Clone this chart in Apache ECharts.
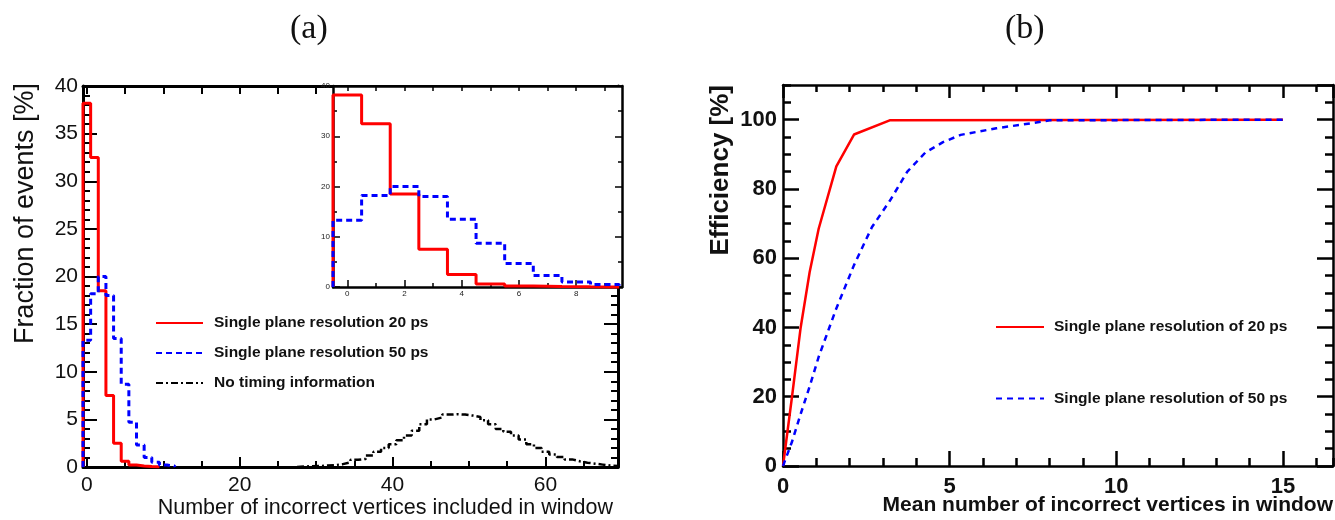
<!DOCTYPE html>
<html>
<head>
<meta charset="utf-8">
<script src="https://cdn.jsdelivr.net/npm/echarts@6/dist/echarts.min.js"></script>
<style>
  body { margin: 0; background: #fff; }
  #chart { width: 1335px; height: 520px; }
</style>
</head>
<body>
<div id="chart"></div>
<script>
// (a) fraction of events [%] per bin, bins centred on integers
const redFrac = [38.2, 32.5, 18.5, 7.5, 2.5, 0.6, 0.2, 0.1, 0.05, 0.02];
const blueFrac = [13.3, 18.2, 20.0, 18.0, 13.5, 8.7, 4.7, 2.3, 1.0, 0.5, 0.2, 0.1];
const noTimingFirstBin = 28;
const noTimingFrac = [0.05, 0.08, 0.1, 0.15, 0.2, 0.3, 0.5, 0.75, 0.85, 1.2,
  1.6, 2.0, 2.4, 2.8, 3.3, 3.8, 4.5, 5.0, 5.2, 5.5,
  5.55, 5.5, 5.4, 5.25, 4.9, 4.5, 4.0, 3.7, 3.3, 2.9,
  2.4, 2.0, 1.6, 1.3, 1.05, 0.8, 0.6, 0.45, 0.35, 0.25,
  0.15, 0.1];
const insetBins = 10;

// tick positions
const mainXLabels = [0, 20, 40, 60];
const mainXMinor = [5, 10, 15, 25, 30, 35, 45, 50, 55, 65];
const mainXTop = [0, 5, 10, 15, 20, 25, 30, 35, 40, 45, 50, 55, 60, 65];
const insetXLabels = [0, 2, 4, 6, 8];
const insetXMinor = [1, 3, 5, 7, 9];
const insetXTop = [0, 1, 2, 3, 4, 5, 6, 7, 8, 9];

// (b) efficiency [%] vs mean number of incorrect vertices
const eff20X = [0, 0.27, 0.53, 0.8, 1.07, 1.6, 2.13, 3.2, 15];
const eff20Y = [0, 20, 40, 56, 68.5, 86.5, 95.7, 99.8, 100];
const eff50X = [0, 0.27, 0.53, 0.8, 1.07, 1.6, 2.13, 2.67, 3.2, 3.73, 4.27, 4.8, 5.33, 6.4, 7.47, 8.0, 15];
const eff50Y = [0, 7, 15, 23, 31.5, 45.5, 58, 69, 76.5, 85, 90.5, 93.5, 95.6, 97.5, 99.0, 99.8, 100];

const nameA20 = 'Single plane resolution 20 ps';
const nameA50 = 'Single plane resolution 50 ps';
const nameANone = 'No timing information';
const nameB20 = 'Single plane resolution of 20 ps';
const nameB50 = 'Single plane resolution of 50 ps';

// histogram outline: bin edges k-0.5 .. k+0.5
function histPoints(vals, firstBin) {
  const pts = [[firstBin - 0.5, 0]];
  vals.forEach((v, i) => pts.push([firstBin + i - 0.5, v]));
  pts.push([firstBin + vals.length - 0.5, 0]);
  return pts;
}

// one side of a frame: axis line + inward ticks
function frame(g, pos, min, max, lineW, tickLen, tickW, ticks, label) {
  const a = {
    type: 'value', gridIndex: g, position: pos, min: min, max: max,
    axisLine: { show: lineW > 0, onZero: false, lineStyle: { color: '#000', width: lineW } },
    axisTick: { show: true, inside: true, length: tickLen, lineStyle: { color: '#000', width: tickW } },
    axisLabel: { show: false },
    splitLine: { show: false },
    z: g === 1 ? 11 : 0
  };
  if (Array.isArray(ticks)) a.axisTick.customValues = ticks;
  else a.interval = ticks;
  if (label) a.axisLabel = label;
  return a;
}

const labA = { show: true, fontSize: 21, color: '#111', margin: 5 };
const labInset = { show: true, fontSize: 8, color: '#222', margin: 3 };
const labB = { show: true, fontSize: 22, fontWeight: 'bold', color: '#111', margin: 6, showMaxLabel: false };

const xMain = frame(0, 'bottom', -0.5, 69.5, 3, 10, 2, mainXLabels,
  Object.assign({}, labA, { customValues: mainXLabels, margin: 8 }));
xMain.name = 'Number of incorrect vertices included in window';
xMain.nameLocation = 'end';
xMain.nameGap = -5;
xMain.nameTextStyle = { fontSize: 21.5, color: '#111', align: 'right', verticalAlign: 'top', padding: [30, 0, 0, 0] };

const yMain = frame(0, 'left', 0, 40, 3, 14, 2, 5, labA);
yMain.name = 'Fraction of events [%]';
yMain.nameLocation = 'end';
yMain.nameRotate = 90;
yMain.nameGap = 3;
yMain.nameTextStyle = { fontSize: 27, color: '#111', align: 'right', verticalAlign: 'bottom', padding: [0, 0, 44, 0] };

const xB = frame(2, 'bottom', 0, 16.5, 2.5, 15, 2.5, 5, Object.assign({}, labB, { margin: 10 }));

const yB = frame(2, 'left', 0, 110, 2.5, 16, 2.5, 20, labB);
yB.name = 'Efficiency [%]';
yB.nameLocation = 'end';
yB.nameRotate = 90;
yB.nameGap = 0;
yB.nameTextStyle = { fontSize: 26, fontWeight: 'bold', color: '#111', align: 'right', verticalAlign: 'bottom', padding: [0, 0, 49, 0] };

const xAxes = [
  xMain,                                                        // 0
  frame(0, 'bottom', -0.5, 69.5, 0, 6, 2, mainXMinor),          // 1
  frame(0, 'top', -0.5, 69.5, 3, 8, 2, mainXTop),               // 2
  frame(1, 'bottom', -0.5, 9.6, 2.5, 7, 1.5, insetXLabels,
    Object.assign({}, labInset, { customValues: insetXLabels })),// 3
  frame(1, 'bottom', -0.5, 9.6, 0, 4, 1.5, insetXMinor),        // 4
  frame(1, 'top', -0.5, 9.6, 2.5, 5, 1.5, insetXTop),           // 5
  xB,                                                           // 6
  frame(2, 'bottom', 0, 16.5, 0, 8, 2.5, 1),                    // 7
  frame(2, 'top', 0, 16.5, 2.5, 13, 2.5, 5),                    // 8
  frame(2, 'top', 0, 16.5, 0, 7, 2.5, 1)                        // 9
];

const yAxes = [
  yMain,                                                  // 0
  frame(0, 'left', 0, 40, 0, 7, 2, 1),                    // 1
  frame(0, 'right', 0, 40, 3, 14, 2, 5),                  // 2
  frame(0, 'right', 0, 40, 0, 7, 2, 1),                   // 3
  frame(1, 'left', 0, 40, 2.5, 7, 1.5, 10, labInset),     // 4
  frame(1, 'left', 0, 40, 0, 4, 1.5, 5),                  // 5
  frame(1, 'right', 0, 40, 2.5, 7, 1.5, 10),              // 6
  frame(1, 'right', 0, 40, 0, 4, 1.5, 5),                 // 7
  yB,                                                     // 8
  frame(2, 'left', 0, 110, 0, 8, 2.5, 5),                 // 9
  frame(2, 'right', 0, 110, 2.5, 16, 2.5, 20),            // 10
  frame(2, 'right', 0, 110, 0, 8, 2.5, 5)                 // 11
];

function hist(name, xi, yi, pts, color, width, type, z) {
  return {
    name: name, type: 'line', xAxisIndex: xi, yAxisIndex: yi,
    data: pts, step: 'end', symbol: 'none', clip: false, z: z,
    lineStyle: { color: color, width: width, type: type },
    itemStyle: { color: color }
  };
}

const legendText = { fontSize: 15.5, fontWeight: 'bold', color: '#111' };
const panelTitle = { fontFamily: 'Liberation Serif', fontSize: 34, fontWeight: 'normal', color: '#111' };

const chart = echarts.init(document.getElementById('chart'));
chart.setOption({
  animation: false,
  textStyle: { fontFamily: 'Liberation Sans, Arial, sans-serif' },
  title: [
    { text: '(a)', left: 285, top: 7, textStyle: panelTitle },
    { text: '(b)', left: 1000, top: 7, textStyle: panelTitle },
    // x-axis title of panel (b), right-aligned under the frame
    { text: 'Mean number of incorrect vertices in window', right: 2, top: 495, padding: 0,
      textStyle: { fontSize: 21, fontWeight: 'bold', color: '#111' } }
  ],
  grid: [
    { left: 83, top: 86, width: 535, height: 381, outerBoundsMode: 'none', containLabel: false },
    { left: 333, top: 86, width: 289, height: 201, show: true, backgroundColor: '#fff', borderWidth: 0, z: 10, outerBoundsMode: 'none', containLabel: false },
    { left: 783, top: 85, width: 550, height: 381, outerBoundsMode: 'none', containLabel: false }
  ],
  legend: [
    {
      data: [nameA20, nameA50, nameANone], orient: 'vertical', left: 155, top: 315, padding: 0,
      itemWidth: 47, itemHeight: 16, itemGap: 14, selectedMode: false,
      itemStyle: { opacity: 0 },
      textStyle: Object.assign({ padding: [0, 0, 0, 6] }, legendText)
    },
    {
      data: [nameB20, nameB50], orient: 'vertical', left: 995, top: 319, padding: 0,
      itemWidth: 48, itemHeight: 16, itemGap: 55.6, selectedMode: false,
      itemStyle: { opacity: 0 },
      textStyle: Object.assign({ padding: [0, 0, 0, 5] }, legendText)
    }
  ],
  xAxis: xAxes,
  yAxis: yAxes,
  series: [
    hist(nameA20, 0, 0, histPoints(redFrac, 0), '#ff0000', 3, 'solid', 3),
    hist(nameA50, 0, 0, histPoints(blueFrac, 0), '#0000ff', 3, [6, 4], 3),
    hist(nameANone, 0, 0, histPoints(noTimingFrac, noTimingFirstBin), '#000', 2.5, [7, 3, 2, 3], 3),
    hist(nameA20, 3, 4, histPoints(redFrac.slice(0, insetBins), 0), '#ff0000', 3, 'solid', 12),
    hist(nameA50, 3, 4, histPoints(blueFrac.slice(0, insetBins), 0), '#0000ff', 3, [6, 4], 12),
    {
      name: nameB20, type: 'line', xAxisIndex: 6, yAxisIndex: 8, symbol: 'none', clip: false,
      data: eff20X.map((x, i) => [x, eff20Y[i]]),
      lineStyle: { color: '#ff0000', width: 2.5 }, itemStyle: { color: '#ff0000' }
    },
    {
      name: nameB50, type: 'line', xAxisIndex: 6, yAxisIndex: 8, symbol: 'none', clip: false,
      data: eff50X.map((x, i) => [x, eff50Y[i]]),
      lineStyle: { color: '#0000ff', width: 2.5, type: [6, 5] }, itemStyle: { color: '#0000ff' }
    }
  ]
});
</script>
</body>
</html>
